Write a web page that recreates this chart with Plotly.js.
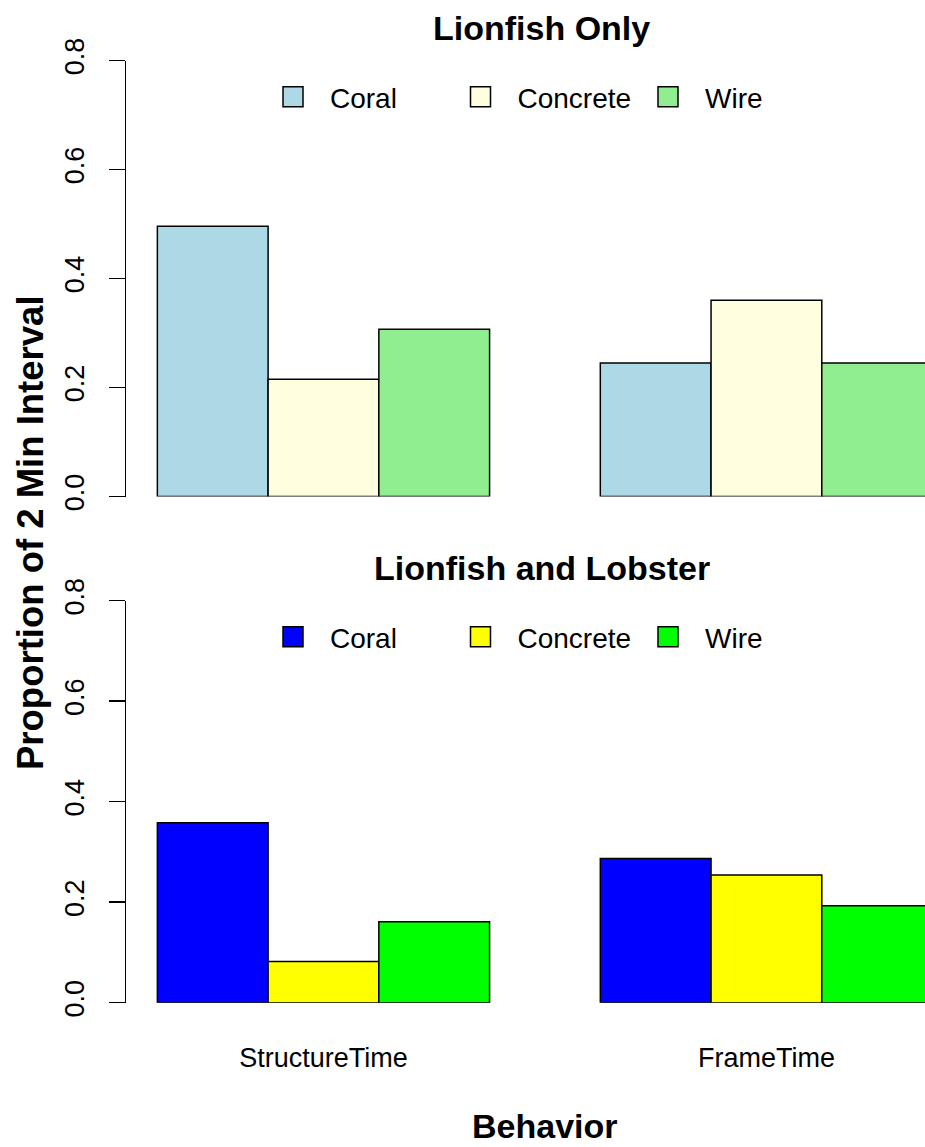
<!DOCTYPE html>
<html>
<head>
<meta charset="utf-8">
<script src="https://cdn.plot.ly/plotly-3.0.1.min.js"></script>
<style>html,body{margin:0;padding:0;background:#fff;}#chart{width:925px;height:1147px;}</style>
</head>
<body>
<div id="chart"></div>
<script>
// Data
var categories = ['StructureTime', 'FrameTime'];
var seriesNames = ['Coral', 'Concrete', 'Wire'];
var onlyCoral = [0.496, 0.245];
var onlyConcrete = [0.215, 0.360];
var onlyWire = [0.307, 0.245];
var lobsterCoral = [0.358, 0.287];
var lobsterConcrete = [0.082, 0.254];
var lobsterWire = [0.161, 0.193];
var yTickVals = [0, 0.2, 0.4, 0.6, 0.8];
var yTickText = ['0.0', '0.2', '0.4', '0.6', '0.8'];
var panelTitles = ['Lionfish Only', 'Lionfish and Lobster'];
var yTitle = 'Proportion of 2 Min Interval';
var xTitle = 'Behavior';

var FONT = 'Liberation Sans, Arial, sans-serif';
var topColors = ['#ADD8E6', '#FFFFE0', '#90EE90'];
var botColors = ['#0000FF', '#FFFF00', '#00FF00'];

function bar(name, vals, color, xa, ya, leg) {
  return {
    type: 'bar', name: name, x: categories, y: vals, xaxis: xa, yaxis: ya, legend: leg,
    marker: {color: color, line: {color: '#000', width: 1.5}},
    hoverinfo: 'skip'
  };
}

var traces = [
  bar(seriesNames[0], onlyCoral, topColors[0], 'x', 'y', 'legend'),
  bar(seriesNames[1], onlyConcrete, topColors[1], 'x', 'y', 'legend'),
  bar(seriesNames[2], onlyWire, topColors[2], 'x', 'y', 'legend'),
  bar(seriesNames[0], lobsterCoral, botColors[0], 'x2', 'y2', 'legend2'),
  bar(seriesNames[1], lobsterConcrete, botColors[1], 'x2', 'y2', 'legend2'),
  bar(seriesNames[2], lobsterWire, botColors[2], 'x2', 'y2', 'legend2')
];

var H = 1147;
function py(px) { return 1 - px / H; }
var xRange = [-0.4458, 1.358];

function yAxis(dom) {
  return {
    domain: dom, range: [0, 0.8], showgrid: false, zeroline: false,
    showline: true, linecolor: '#000', linewidth: 1.5,
    ticks: 'outside', ticklen: 16, tickwidth: 1.5, tickcolor: '#000',
    tickmode: 'array', tickvals: yTickVals, ticktext: yTickText,
    tickangle: -90, ticklabelstandoff: 14,
    tickfont: {family: FONT, size: 27, color: '#000'},
    fixedrange: true
  };
}

var legendBase = {
  orientation: 'h', xanchor: 'left', yanchor: 'middle',
  font: {family: FONT, size: 28, color: '#000'},
  itemwidth: 64, entrywidth: 108.5, entrywidthmode: 'pixels',
  bgcolor: 'rgba(0,0,0,0)', borderwidth: 0, traceorder: 'normal',
  itemclick: false, itemdoubleclick: false
};

var layout = {
  width: 925, height: 1147,
  margin: {l: 126, r: 0, t: 0, b: 0, pad: 0},
  paper_bgcolor: '#fff', plot_bgcolor: 'rgba(0,0,0,0)',
  barmode: 'group', bargap: 0.25, bargroupgap: 0,
  font: {family: FONT, color: '#000'},
  xaxis: {domain: [0, 1], range: xRange, anchor: 'y', showticklabels: false, showline: false,
          ticks: '', showgrid: false, zeroline: false, fixedrange: true},
  yaxis: Object.assign(yAxis([py(496.5), py(60.5)]), {anchor: 'x'}),
  xaxis2: {domain: [0, 1], range: xRange, anchor: 'y2', showline: false, ticks: '',
           showgrid: false, zeroline: false, fixedrange: true, ticklabelstandoff: 36,
           tickfont: {family: FONT, size: 27, color: '#000'}},
  yaxis2: Object.assign(yAxis([py(1002.7), py(600.7)]), {anchor: 'x2'}),
  legend: Object.assign({}, legendBase, {x: (256 - 126) / 799, y: py(97)}),
  legend2: Object.assign({}, legendBase, {x: (256 - 126) / 799, y: py(637)}),
  showlegend: true,
  annotations: [
    {text: '<b>' + panelTitles[0] + '</b>', xref: 'paper', yref: 'paper', x: (541.5 - 126) / 799, y: py(28),
     xanchor: 'center', yanchor: 'middle', showarrow: false, font: {family: FONT, size: 34, color: '#000'}},
    {text: '<b>' + panelTitles[1] + '</b>', xref: 'paper', yref: 'paper', x: (541.5 - 126) / 799, y: py(568),
     xanchor: 'center', yanchor: 'middle', showarrow: false, font: {family: FONT, size: 34, color: '#000'}},
    {text: '<b>' + yTitle + '</b>', xref: 'paper', yref: 'paper', x: (30 - 126) / 799, y: py(533),
     xanchor: 'center', yanchor: 'middle', textangle: -90, showarrow: false, font: {family: FONT, size: 36.5, color: '#000'}},
    {text: '<b>' + xTitle + '</b>', xref: 'paper', yref: 'paper', x: (545 - 126) / 799, y: py(1126),
     xanchor: 'center', yanchor: 'middle', showarrow: false, font: {family: FONT, size: 34, color: '#000'}}
  ]
};

Plotly.newPlot('chart', traces, layout, {displayModeBar: false, staticPlot: true}).then(function (gd) {
  // enlarge legend swatches to R-like 20px boxes
  var paths = gd.querySelectorAll('.legendpoints path');
  paths.forEach(function (p) {
    p.setAttribute('d', 'M10,10H-10V-10H10Z');
  });
});
</script>
</body>
</html>
